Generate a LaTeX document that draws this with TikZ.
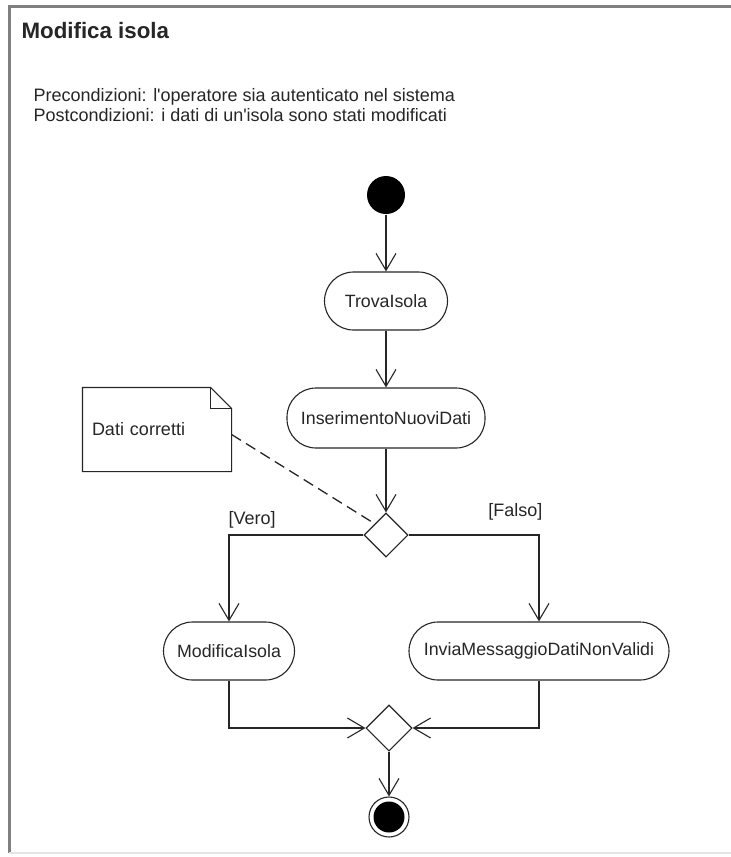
\documentclass[tikz,border=0pt]{standalone}
\usepackage{fontspec}
\setmainfont{Liberation Sans}
\usetikzlibrary{arrows.meta,shapes.geometric,calc}

\begin{document}
\begin{tikzpicture}[x=1pt,y=-1pt,
  line width=1.1pt,
  ink/.style={black!85},
  flow/.style={draw=black!85, -{Straight Barb[length=17pt,width=20pt,line width=1.1pt]}},
  action/.style={draw=black!85, rectangle, rounded corners=29pt, minimum height=58pt,
    inner sep=0pt, text=black!85, font=\fontsize{17.8}{20}\selectfont},
  choice/.style={draw=black!85, diamond, minimum width=44pt, minimum height=44pt, inner sep=0pt},
  txt/.style={font=\fontsize{18}{21}\selectfont, inner sep=0pt, text=black!85}
]
% canvas and frame
\useasboundingbox (0,0) rectangle (731,857);
\fill[white] (0,0) rectangle (731,857);
\draw[line width=3pt, black!50] (731,6) -- (9,6) -- (9,853);
\draw[line width=1.5pt, black!10] (9,853) -- (731,853);

% heading and conditions
\node[txt, anchor=base west, font=\fontsize{22.3}{26}\selectfont\bfseries] (title) at (21,38) {Modifica isola};
\node[txt, anchor=base west] (pre) at (33,101) {Precondizioni: l\textquotesingle operatore sia autenticato nel sistema};
\node[txt, anchor=base west] (post) at (33,121) {Postcondizioni: i dati di un\textquotesingle isola sono stati modificati};

% activity nodes
\node[circle, fill=black, minimum size=38pt, inner sep=0pt] (start) at (386,195) {};
\node[action, minimum width=123pt] (trova) at (386,301) {TrovaIsola};
\node[action, minimum width=198pt, minimum height=60pt] (ins) at (386,418) {InserimentoNuoviDati};
\node[choice] (dec1) at (386,535) {};
\node[action, minimum width=131pt] (mod) at (229,651) {ModificaIsola};
\node[action, minimum width=260pt] (inv) at (539,651) {InviaMessaggioDatiNonValidi};
\node[choice, minimum width=46pt, minimum height=46pt] (dec2) at (389,728) {};
\node[circle, draw=black!85, line width=1.1pt, minimum size=40pt, inner sep=0pt] (end) at (389,817) {};
\fill[black] (end.center) circle (15.5pt);

% note
\node[txt, minimum height=83pt, text width=130pt, inner xsep=9pt, inner ysep=0pt, align=left] (note) at (157,429.5) {Dati corretti};
\draw[ink] (note.north west) -- ($(note.north east)+(-21,0)$) -- ($(note.north east)+(0,21)$)
  -- (note.south east) -- (note.south west) -- cycle;
\draw[ink] ($(note.north east)+(-21,0)$) |- ($(note.north east)+(0,21)$);
\draw[ink, line width=1.3pt, dash pattern=on 11pt off 6pt] ($(note.east)+(0,5)$) -- (dec1.north west);

% guards
\node[txt, anchor=base west] (vero) at (228,524) {[Vero]};
\node[txt, anchor=base east] (falso) at (543,516) {[Falso]};

% control flow
\draw[flow] (start) -- (trova);
\draw[flow] (trova) -- (ins);
\draw[flow] (ins) -- (dec1);
\draw[flow] (dec1.west) -| (mod.north);
\draw[flow] (dec1.east) -| (inv.north);
\draw[flow] (mod.south) |- (dec2.west);
\draw[flow] (inv.south) |- (dec2.east);
\draw[flow] (dec2.south) -- (end.north);
\end{tikzpicture}
\end{document}
